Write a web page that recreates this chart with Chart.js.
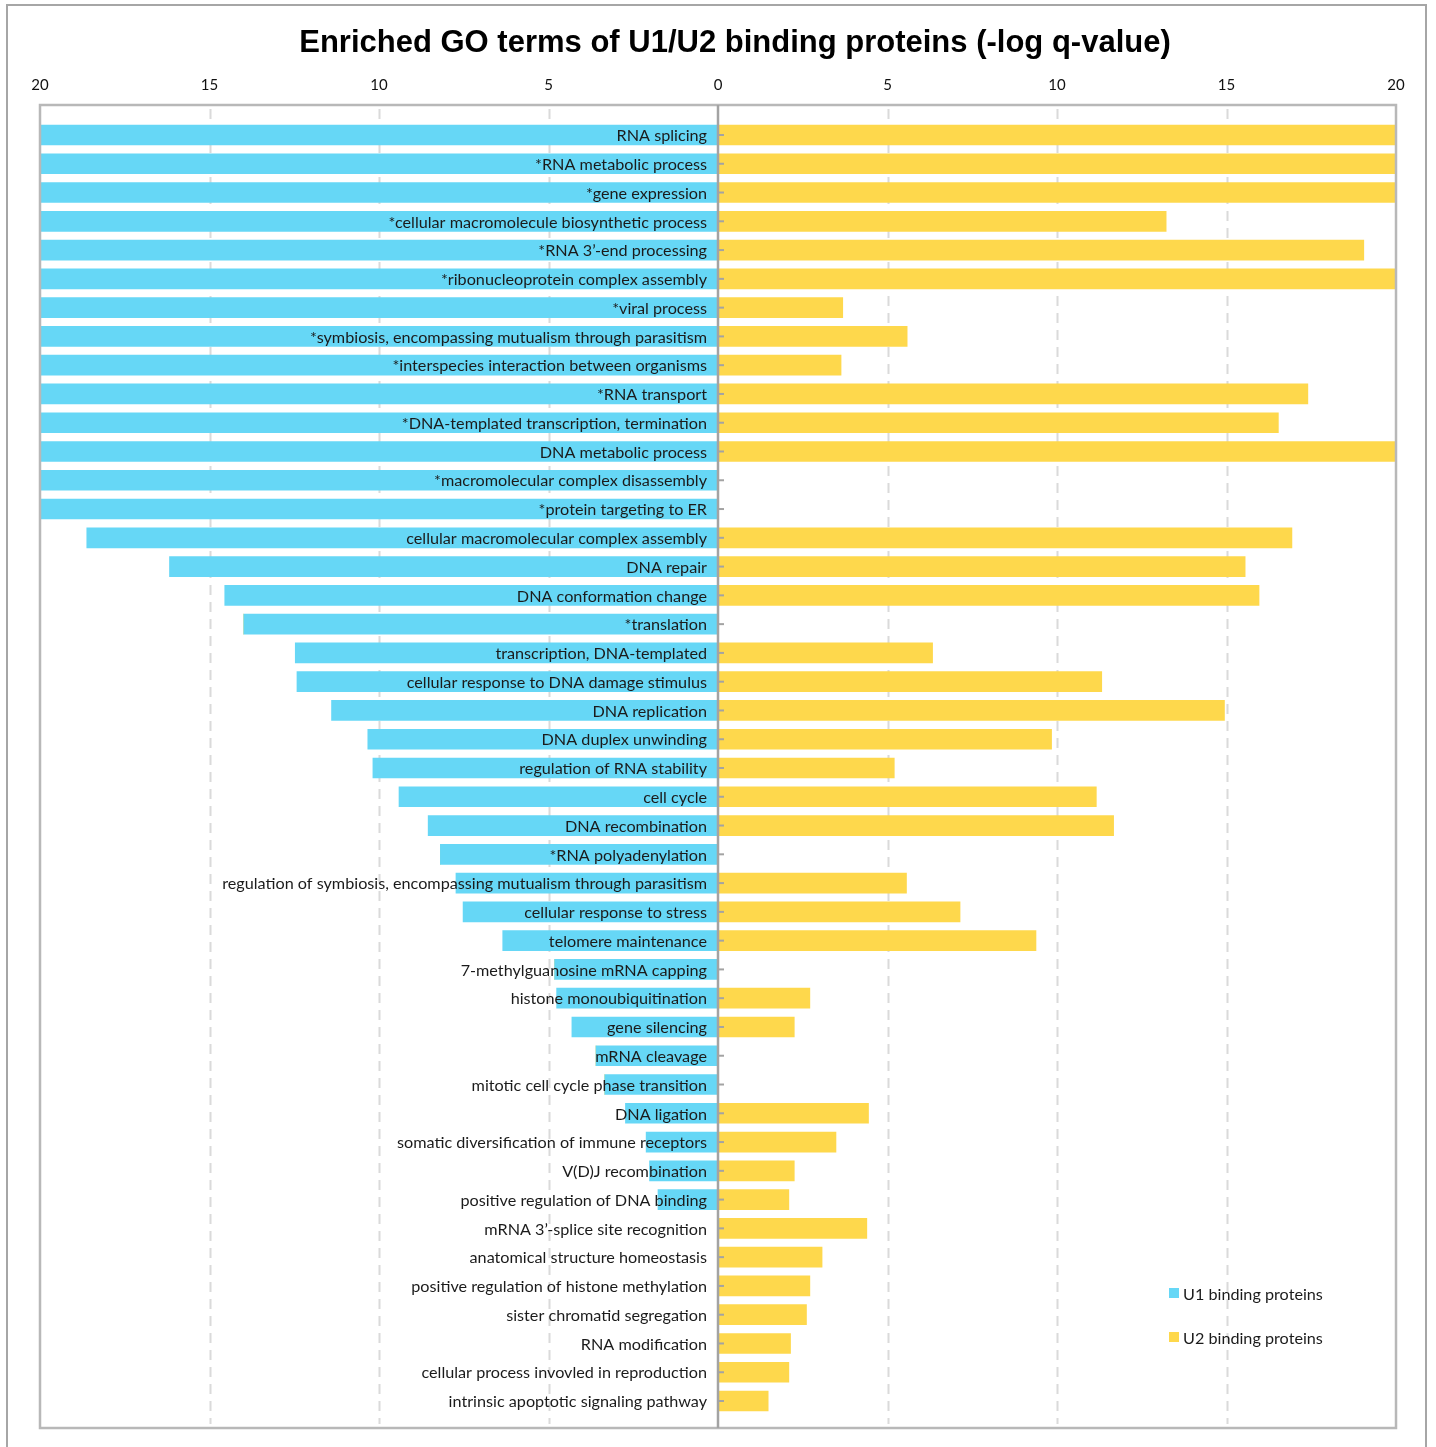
<!DOCTYPE html>
<html>
<head>
<meta charset="utf-8">
<title>Enriched GO terms of U1/U2 binding proteins</title>
<script src="https://cdn.jsdelivr.net/npm/chart.js@4.4.1/dist/chart.umd.min.js"></script>
<style>
    body { margin: 0; background: #fff; }
    #wrap { position: relative; width: 1436px; height: 1447px; overflow: hidden; }
    #chart { position: absolute; left: 0; top: 0; }
    #frame {
        position: absolute; left: 6px; top: 4px; width: 1421px; height: 1470px;
        border: 2px solid #a6a6a6; box-sizing: border-box; pointer-events: none;
    }
</style>
</head>
<body>
<div id="wrap">
    <canvas id="chart" width="1436" height="1447"></canvas>
    <div id="frame"></div>
</div>
<script>
// data (-log q-value)
const terms = [
    'RNA splicing',
    '*RNA metabolic process',
    '*gene expression',
    '*cellular macromolecule biosynthetic process',
    '*RNA 3\u2019-end processing',
    '*ribonucleoprotein complex assembly',
    '*viral process',
    '*symbiosis, encompassing mutualism through parasitism',
    '*interspecies interaction between organisms',
    '*RNA transport',
    '*DNA-templated transcription, termination',
    'DNA metabolic process',
    '*macromolecular complex disassembly',
    '*protein targeting to ER',
    'cellular macromolecular complex assembly',
    'DNA repair',
    'DNA conformation change',
    '*translation',
    'transcription, DNA-templated',
    'cellular response to DNA damage stimulus',
    'DNA replication',
    'DNA duplex unwinding',
    'regulation of RNA stability',
    'cell cycle',
    'DNA recombination',
    '*RNA polyadenylation',
    'regulation of symbiosis, encompassing mutualism through parasitism',
    'cellular response to stress',
    'telomere maintenance',
    '7-methylguanosine mRNA capping',
    'histone monoubiquitination',
    'gene silencing',
    'mRNA cleavage',
    'mitotic cell cycle phase transition',
    'DNA ligation',
    'somatic diversification of immune receptors',
    'V(D)J recombination',
    'positive regulation of DNA binding',
    'mRNA 3\u2019-splice site recognition',
    'anatomical structure homeostasis',
    'positive regulation of histone methylation',
    'sister chromatid segregation',
    'RNA modification',
    'cellular process invovled in reproduction',
    'intrinsic apoptotic signaling pathway'
];

const u1Values = [
    20, 20, 20, 20, 20, 20, 20, 20, 20, 20, 20, 20, 20, 20,
    18.62, 16.18, 14.55, 13.99, 12.47, 12.42, 11.40, 10.33, 10.18, 9.41,
    8.55, 8.19, 7.73, 7.52, 6.35, 4.82, 4.76, 4.31, 3.60, 3.34,
    2.73, 2.12, 2.02, 1.77, 0, 0, 0, 0, 0, 0, 0
];

const u2Values = [
    20, 20, 20, 13.22, 19.05, 20, 3.68, 5.58, 3.63, 17.40, 16.53, 20, 0, 0,
    16.93, 15.55, 15.96, 0, 6.33, 11.32, 14.94, 9.84, 5.20, 11.16,
    11.67, 0, 5.56, 7.14, 9.38, 0, 2.71, 2.25, 0, 0,
    4.44, 3.48, 2.25, 2.09, 4.39, 3.07, 2.71, 2.61, 2.14, 2.09, 1.48
];

const seriesNames = ['U1 binding proteins', 'U2 binding proteins'];
const axisTicks = [-20, -15, -10, -5, 0, 5, 10, 15, 20];
const titleText = 'Enriched GO terms of U1/U2 binding proteins (-log q-value)';

const BLUE = '#66d7f6';
const YELLOW = '#fed84c';
const LABEL_FONT = '16.2px Lato';

// plot frame is a bit taller than the category band
const FRAME_TOP = 105;
const FRAME_BOTTOM = 1428;

const butterflyPlugin = {
    id: 'butterfly',
    beforeDatasetsDraw(chart) {
        const { ctx, scales: { x } } = chart;
        ctx.save();
        ctx.strokeStyle = '#dadada';
        ctx.lineWidth = 2;
        ctx.setLineDash([10, 7]);
        axisTicks.filter(v => Math.abs(v) !== 20 && v !== 0).forEach(v => {
            const px = Math.round(x.getPixelForValue(v)) + 0.5;
            ctx.beginPath();
            ctx.moveTo(px, FRAME_TOP + 4);
            ctx.lineTo(px, FRAME_BOTTOM - 4);
            ctx.stroke();
        });
        ctx.restore();
    },
    afterDatasetsDraw(chart) {
        const { ctx, scales: { x, y } } = chart;
        const zero = x.getPixelForValue(0);
        ctx.save();

        // plot frame
        ctx.strokeStyle = '#b8b8b8';
        ctx.lineWidth = 2.5;
        const left = x.getPixelForValue(-20);
        const right = x.getPixelForValue(20);
        ctx.strokeRect(left, FRAME_TOP, right - left, FRAME_BOTTOM - FRAME_TOP);

        // centre axis with small ticks to the right
        ctx.strokeStyle = '#a3a3a3';
        ctx.lineWidth = 2.5;
        ctx.beginPath();
        ctx.moveTo(zero, FRAME_TOP);
        ctx.lineTo(zero, FRAME_BOTTOM);
        ctx.stroke();
        ctx.lineWidth = 2;
        terms.forEach((t, i) => {
            const py = y.getPixelForValue(i);
            ctx.beginPath();
            ctx.moveTo(zero, py);
            ctx.lineTo(zero + 6, py);
            ctx.stroke();
        });

        // category labels, right aligned next to the centre
        ctx.fillStyle = '#1b1b1b';
        ctx.font = LABEL_FONT;
        ctx.textAlign = 'right';
        ctx.textBaseline = 'middle';
        terms.forEach((t, i) => {
            ctx.fillText(t, zero - 11, y.getPixelForValue(i) + 1);
        });

        // legend
        const colors = [BLUE, YELLOW];
        ctx.textAlign = 'left';
        seriesNames.forEach((name, i) => {
            const ly = 1294 + i * 44;
            ctx.fillStyle = colors[i];
            ctx.fillRect(1169, ly - 6, 10, 10);
            ctx.fillStyle = '#1b1b1b';
            ctx.fillText(name, 1183, ly + 1);
        });

        // title
        ctx.fillStyle = '#000';
        ctx.font = 'bold 31px "Liberation Sans"';
        ctx.textAlign = 'center';
        ctx.fillText(titleText, 735, 43);
        ctx.restore();
    }
};

const ctx = document.getElementById('chart').getContext('2d');
new Chart(ctx, {
    type: 'bar',
    data: {
        labels: terms,
        datasets: [
            {
                label: seriesNames[0],
                data: u1Values.map(v => -v),
                backgroundColor: BLUE,
                barThickness: 20
            },
            {
                label: seriesNames[1],
                data: u2Values,
                backgroundColor: YELLOW,
                barThickness: 20
            }
        ]
    },
    options: {
        indexAxis: 'y',
        responsive: false,
        animation: false,
        layout: { padding: { left: 40, right: 40, top: 0, bottom: 31.6 } },
        plugins: {
            legend: { display: false },
            title: { display: false },
            tooltip: { enabled: false }
        },
        scales: {
            x: {
                position: 'top',
                stacked: true,
                min: -20,
                max: 20,
                afterBuildTicks: scale => {
                    scale.ticks = axisTicks.map(v => ({ value: v }));
                },
                afterFit: scale => { scale.height = 120.6; },
                ticks: {
                    callback: v => Math.abs(v),
                    font: { family: 'Lato', size: 15 },
                    color: '#111',
                    padding: 18,
                    maxRotation: 0
                },
                grid: { display: false },
                border: { display: false }
            },
            y: {
                stacked: true,
                display: false
            }
        }
    },
    plugins: [butterflyPlugin]
});
</script>
</body>
</html>
